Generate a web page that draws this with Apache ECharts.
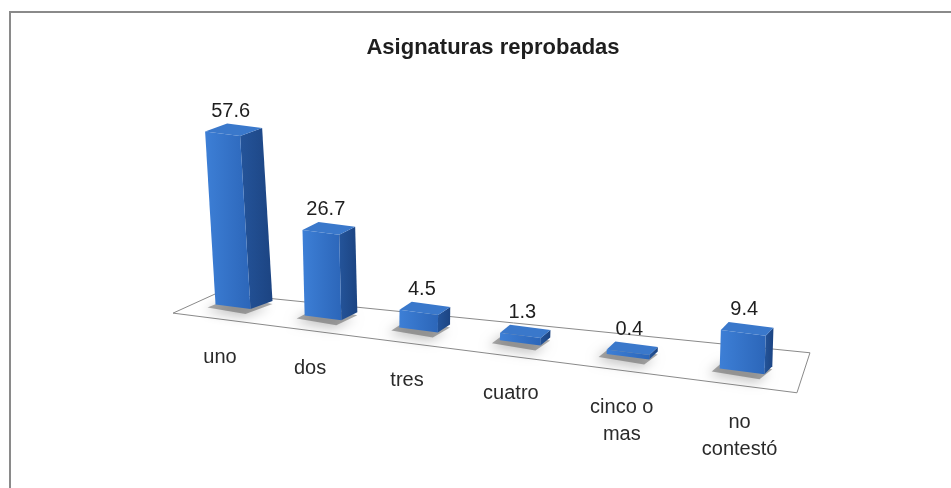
<!DOCTYPE html>
<html><head><meta charset="utf-8">
<script src="https://cdn.jsdelivr.net/npm/echarts@6/dist/echarts.min.js"></script>
<style>html,body{margin:0;padding:0;background:#fff;}#c{width:951px;height:488px;}</style>
</head><body><div id="c"></div>
<script>
// ---- data ----
const chartTitle = 'Asignaturas reprobadas';
const categories = ['uno', 'dos', 'tres', 'cuatro', 'cinco o\nmas', 'no\ncontestó'];
const values = [57.6, 26.7, 4.5, 1.3, 0.4, 9.4];
const valueLabels = ['57.6', '26.7', '4.5', '1.3', '0.4', '9.4'];

// ---- 3D look parameters (style only) ----
const SLOPE = 0.13, WARP = 0.167, PGROW = 0.28, BEVEL = 3, FRONT_W = 35, SIDE_D = 8;
const FONT = 'Liberation Sans, Arial, sans-serif';

function warpX(cs, t) { return cs.x + cs.width * (t - WARP * t * (1 - t)); }
function baseY(cs, X) { return cs.y + cs.height + SLOPE * (X - cs.x); }

function renderFloor(params, api) {
  const cs = params.coordSys;
  const XL = warpX(cs, -0.13), XR = warpX(cs, 1.11);
  const yL = baseY(cs, XL), yR = baseY(cs, XR);
  const pts = [
    [XL - 18, yL + 11], [XL + 26, yL - 9], [XR - 1.5, yR - 30], [XR - 14.5, yR + 10]
  ];
  return { type: 'polygon', shape: { points: pts }, style: { fill: '#fff', stroke: '#8a8a8a', lineWidth: 1 }, silent: true };
}

function renderBar(params, api) {
  const i = api.value(0), v = api.value(1);
  const cs = params.coordSys;
  const p = api.coord([i, 0]);
  const t = (p[0] - cs.x) / cs.width;
  const Xc = warpX(cs, t);
  const yb = baseY(cs, Xc);
  const rel = (Xc - cs.x) / cs.width;
  const ps = 1 + PGROW * rel;
  const h = api.size([0, v])[1] * ps + BEVEL;
  const fw = FRONT_W * ps;
  const sw = 7 + 15 * Math.exp(-(Xc - cs.x) / 170);
  const sd = SIDE_D;
  const lean = h * Math.max(-0.03, 0.06 - 0.0004 * (Xc - cs.x));
  const J = [Xc - (fw + sw) / 2 + fw, yb];
  const FL = [J[0] - fw, J[1] - fw * SLOPE];
  const SB = [J[0] + sw, J[1] - sd];
  const BL = [FL[0] + sw, FL[1] - sd];
  const up = q => [q[0] - lean, q[1] - h];
  const Jt = up(J), FLt = up(FL), SBt = up(SB), BLt = up(BL);
  const children = [];
  children.push({ type: 'polygon', shape: { points: [[FL[0]-8, FL[1]+3], [J[0]-5, J[1]+5], [SB[0], SB[1]+3], [BL[0]-3, BL[1]]] },
    style: { fill: 'rgba(70,70,70,0.45)', shadowBlur: 12, shadowColor: 'rgba(0,0,0,0.55)', shadowOffsetX: -3, shadowOffsetY: 3 }, silent: true });
  children.push({ type: 'polygon', shape: { points: [J, SB, SBt, Jt] },
    style: { fill: new echarts.graphic.LinearGradient(0, 0, 1, 0, [{ offset: 0, color: '#24549a' }, { offset: 1, color: '#1c4482' }]) } });
  children.push({ type: 'polygon', shape: { points: [FL, J, Jt, FLt] },
    style: { fill: new echarts.graphic.LinearGradient(0, 0, 1, 0, [{ offset: 0, color: '#3d7fd6' }, { offset: 1, color: '#2c66b9' }]) } });
  children.push({ type: 'polygon', shape: { points: [FLt, Jt, SBt, BLt] },
    style: { fill: '#3a78cb' } });
  children.push({ type: 'text', style: { text: valueLabels[i], x: (FLt[0] + SBt[0]) / 2 - 3, y: BLt[1] - 2,
    align: 'center', verticalAlign: 'bottom', fill: '#1e1e1e', fontSize: 20, fontFamily: FONT } });
  children.push({ type: 'text', style: { text: categories[i], x: Xc - 24 + 0.035 * (Xc - cs.x), y: yb + 34.5,
    align: 'center', verticalAlign: 'top', lineHeight: 27, fill: '#2a2a2a', fontSize: 20, fontFamily: FONT } });
  return { type: 'group', children };
}

const chart = echarts.init(document.getElementById('c'), null, { renderer: 'canvas' });
chart.setOption({
  animation: false,
  backgroundColor: '#fff',
  title: { text: chartTitle, left: 488, top: 32, textAlign: 'center',
    textStyle: { fontFamily: FONT, fontWeight: 'bold', fontSize: 22, color: '#1e1e1e' } },
  graphic: [{ type: 'rect', shape: { x: 10, y: 12, width: 1000, height: 600 }, style: { fill: 'none', stroke: '#8a8a8a', lineWidth: 2 }, silent: true }],
  grid: { left: 244, right: 205, top: 132, bottom: 179 },
  xAxis: { type: 'category', data: categories, boundaryGap: false, show: false },
  yAxis: { type: 'value', min: 0, max: 60, show: false },
  series: [
    { type: 'custom', name: 'floor', data: [[0]], renderItem: renderFloor, z: 1, silent: true },
    { type: 'custom', name: 'Asignaturas reprobadas', data: values.map((v, i) => [i, v]), renderItem: renderBar, z: 2 }
  ]
});
</script></body></html>
